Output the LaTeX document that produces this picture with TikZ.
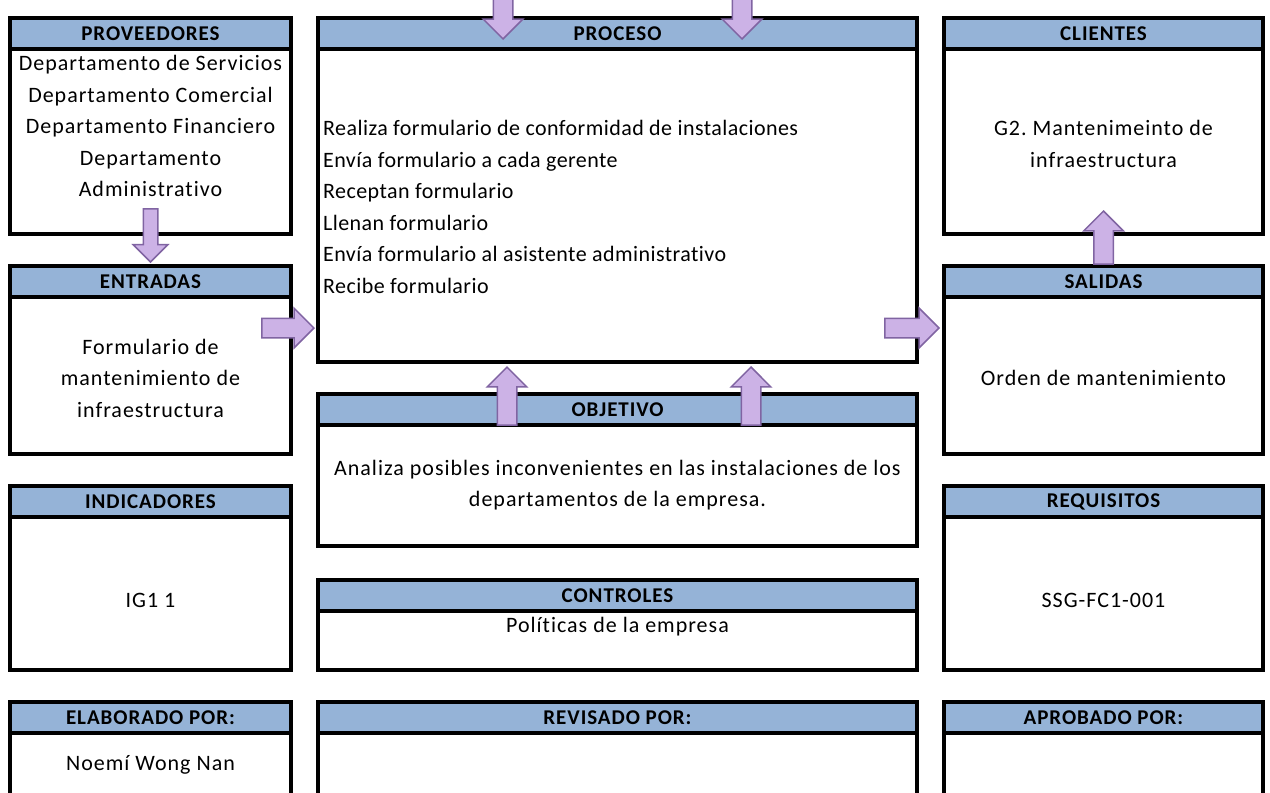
\documentclass[tikz,border=0pt]{standalone}
\usepackage{fontspec}
\setmainfont{Carlito}[LetterSpace=4.5, Ligatures=NoCommon]
\newfontfamily\procFont{Carlito}[LetterSpace=2, Ligatures=NoCommon]
\usetikzlibrary{calc,positioning,shapes.arrows}
\definecolor{headBlue}{RGB}{149,179,215}
\definecolor{arrowFill}{RGB}{204,178,230}
\definecolor{arrowLine}{RGB}{128,100,162}
\frenchspacing
\tikzset{
myBox/.style={
	draw, rectangle, line width=4pt, anchor=north west,
	inner sep=0pt, outer sep=0pt
}
, myHead/.style={
	draw, rectangle, line width=4pt, fill=headBlue, anchor=north,
	inner sep=0pt, outer sep=0pt, minimum height=31pt, minimum width=#1,
	font=\bfseries\fontsize{21}{24}\selectfont
}
, myText/.style={
	align=center, inner sep=0pt,
	font=\fontsize{22}{31.5}\selectfont
}
% block arrows
, myArrow/.style={
	single arrow, draw=arrowLine, fill=arrowFill, line width=1.5pt,
	inner sep=0pt, text width=0pt, text height=#1, text depth=0pt,
	single arrow head extend=10pt, single arrow head indent=0pt
}
}
\begin{document}
\begin{tikzpicture}[x=1pt,y=-1pt]
	\useasboundingbox (0,0) rectangle (1270,793);
	\clip (0,0) rectangle (1270,793);
	% boxes
	\node[myBox, minimum width=281pt, minimum height=216pt] (prov) at (10,18) {};
	\node[myBox, minimum width=281pt, minimum height=188pt] (ent) at (10,266) {};
	\node[myBox, minimum width=281pt, minimum height=184pt] (ind) at (10,486) {};
	\node[myBox, minimum width=281pt, minimum height=150pt] (elab) at (10,702) {};
	\node[myBox, minimum width=599pt, minimum height=344pt] (proc) at (318,18) {};
	\node[myBox, minimum width=599pt, minimum height=152pt] (obj) at (318,394) {};
	\node[myBox, minimum width=599pt, minimum height=90pt] (ctrl) at (318,580) {};
	\node[myBox, minimum width=599pt, minimum height=150pt] (rev) at (318,702) {};
	\node[myBox, minimum width=319pt, minimum height=216pt] (cli) at (944,18) {};
	\node[myBox, minimum width=319pt, minimum height=188pt] (sal) at (944,266) {};
	\node[myBox, minimum width=319pt, minimum height=184pt] (req) at (944,486) {};
	\node[myBox, minimum width=319pt, minimum height=150pt] (apr) at (944,702) {};
	% headers
	\node[myHead=281pt] (provH) at (prov.north) {PROVEEDORES};
	\node[myHead=281pt] (entH) at (ent.north) {ENTRADAS};
	\node[myHead=281pt] (indH) at (ind.north) {INDICADORES};
	\node[myHead=281pt] (elabH) at (elab.north) {ELABORADO POR:};
	\node[myHead=599pt] (procH) at (proc.north) {PROCESO};
	\node[myHead=599pt] (objH) at (obj.north) {OBJETIVO};
	\node[myHead=599pt] (ctrlH) at (ctrl.north) {CONTROLES};
	\node[myHead=599pt] (revH) at (rev.north) {REVISADO POR:};
	\node[myHead=319pt] (cliH) at (cli.north) {CLIENTES};
	\node[myHead=319pt] (salH) at (sal.north) {SALIDAS};
	\node[myHead=319pt] (reqH) at (req.north) {REQUISITOS};
	\node[myHead=319pt] (aprH) at (apr.north) {APROBADO POR:};
	% texts
	\node[myText] (provT) at ($(prov.north)+(0,108)$) {Departamento de Servicios\\Departamento Comercial\\Departamento Financiero\\Departamento\\Administrativo};
	\node[myText] (entT) at ($(ent.north)+(0,112)$) {Formulario de\\mantenimiento de\\infraestructura};
	\node[myText] (indT) at ($(ind.north)+(0,114)$) {IG1 1};
	\node[myText] (elabT) at ($(elab.north)+(0,63)$) {Noemí Wong Nan};
	\node[myText, align=left, anchor=west, font=\procFont\fontsize{22}{31.5}\selectfont] (procT) at (323,207) {Realiza formulario de conformidad de instalaciones\\Envía formulario a cada gerente\\Receptan formulario\\Llenan formulario\\Envía formulario al asistente administrativo\\Recibe formulario};
	\node[myText] (objT) at ($(obj.north)+(0,91)$) {Analiza posibles inconvenientes en las instalaciones de los\\departamentos de la empresa.};
	\node[myText] (ctrlT) at ($(ctrl.north)+(0,47)$) {Políticas de la empresa};
	\node[myText] (cliT) at ($(cli.north)+(0,126)$) {G2. Mantenimeinto de\\infraestructura};
	\node[myText] (salT) at ($(sal.north)+(0,112)$) {Orden de mantenimiento};
	\node[myText] (reqT) at ($(req.north)+(0,114)$) {SSG-FC1-001};
	% arrows
	\node[myArrow=18pt, rotate=-90, minimum height=50pt, anchor=tip] (inProcA) at ($(proc.north)+(-114.5,22)$) {};
	\node[myArrow=18pt, rotate=-90, minimum height=50pt, anchor=tip] (inProcB) at ($(proc.north)+(124.5,22)$) {};
	\node[myArrow=13pt, rotate=-90, minimum height=53pt, anchor=tip] (provEnt) at ($(ent.north)+(0,-3)$) {};
	\node[myArrow=18pt, minimum height=52pt, anchor=tip] (entProc) at ($(proc.south west)+(-3,-34)$) {};
	\node[myArrow=18pt, rotate=90, minimum height=58pt, anchor=tip] (objProcA) at ($(proc.south)+(-110.5,4)$) {};
	\node[myArrow=18pt, rotate=90, minimum height=58pt, anchor=tip] (objProcB) at ($(proc.south)+(133.5,4)$) {};
	\node[myArrow=18pt, minimum height=54pt, anchor=tip] (procSal) at ($(sal.west)+(-4,-32)$) {};
	\node[myArrow=18pt, rotate=90, minimum height=53pt, anchor=tip] (salCli) at ($(cli.south)+(0,-24)$) {};
\end{tikzpicture}
\end{document}
